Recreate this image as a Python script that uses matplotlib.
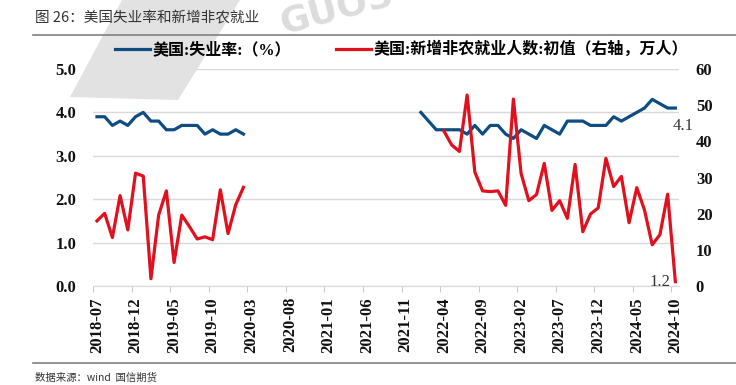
import numpy as np
import pandas as pd
import matplotlib
matplotlib.use('Agg')
import matplotlib.pyplot as plt
from matplotlib.lines import Line2D
from matplotlib.patches import Polygon

plt.rcParams['font.family'] = ['Liberation Serif', 'Noto Sans CJK SC', 'DejaVu Sans']

# monthly categories
months = pd.date_range('2018-07-01', '2024-10-01', freq='MS').strftime('%Y-%m').tolist()

# US unemployment rate (%), left axis
unemp_2018 = [3.9, 3.9, 3.7, 3.8, 3.7, 3.9, 4.0, 3.8, 3.8, 3.6,
              3.6, 3.7, 3.7, 3.7, 3.5, 3.6, 3.5, 3.5, 3.6, 3.5]          # 2018-07 .. 2020-02
unemp_2022 = [4.0, 3.8, 3.6, 3.6, 3.6, 3.6, 3.5, 3.7, 3.5, 3.7, 3.7, 3.5,
              3.4, 3.6, 3.5, 3.4, 3.7, 3.6, 3.5, 3.8, 3.8, 3.8, 3.7, 3.7,
              3.7, 3.9, 3.8, 3.9, 4.0, 4.1, 4.3, 4.2, 4.1, 4.1]            # 2022-01 .. 2024-10

# US nonfarm payrolls, first release (10k persons), right axis
nfp_2018 = [18.0, 20.1, 13.4, 25.0, 15.5, 31.2, 30.4, 2.0, 19.6, 26.3,
            6.5, 19.6, 16.4, 13.0, 13.6, 12.8, 26.6, 14.5, 22.5, 27.3]     # 2018-07 .. 2020-02
nfp_2022 = [42.8, 39.0, 37.2, 52.8, 31.5, 26.3, 26.1, 26.3, 22.3,
            51.7, 31.1, 23.6, 25.3, 33.9, 20.9, 23.6, 18.7, 33.6, 15.0, 19.9, 21.6,
            35.3, 27.5, 30.3, 17.5, 27.2, 21.0, 11.4, 14.2, 25.4, 1.2]     # 2022-04 .. 2024-10

unemp = pd.Series(np.nan, index=months)
unemp.loc['2018-07':'2020-02'] = unemp_2018
unemp.loc['2022-01':'2024-10'] = unemp_2022
nfp = pd.Series(np.nan, index=months)
nfp.loc['2018-07':'2020-02'] = nfp_2018
nfp.loc['2022-04':'2024-10'] = nfp_2022

x = np.arange(len(months))
blue = '#0f4c81'
red = '#e0101e'

fig = plt.figure(figsize=(7.36, 3.85), dpi=100)

# watermark
fig.patches.append(Polygon([(122/736, 1), (240/736, 1), (178/736, 1-100/385), (70/736, 1-97/385)],
                           closed=True, transform=fig.transFigure, facecolor='#e2e2e2',
                           edgecolor='none', zorder=0))
fig.text(283/736, 1-34/385, 'GUOS', fontsize=26, fontweight='bold', family='DejaVu Sans',
         color='#dcdcdc', rotation=15, rotation_mode='anchor', ha='left', va='baseline', zorder=0)

ax = fig.add_axes([93.1/736, 1-286/385, (679.2-93.1)/736, 217/385])
ax.patch.set_visible(False)
ax2 = ax.twinx()

l1, = ax.plot(x, unemp.values, color=blue, lw=2.3)
l2, = ax2.plot(x, nfp.values, color=red, lw=2.3)

ax.set_xlim(-0.5, len(months) - 0.5)
ax.set_ylim(0, 5)
ax2.set_ylim(0, 60)
ax.set_yticks(np.arange(0, 6, 1))
ax.set_yticklabels([f'{v:.1f}' for v in np.arange(0, 6, 1)])
ax2.set_yticks(np.arange(0, 61, 10))

ax.set_xticks(x[::5])
ax.set_xticklabels(months[::5], rotation=90)
ax.set_xticks(np.arange(-0.5, len(months), 5), minor=True)

ax.grid(axis='y', color='#d9d9d9', lw=1)
ax.set_axisbelow(True)
for s in ['top', 'left', 'right']:
    ax.spines[s].set_visible(False)
    ax2.spines[s].set_visible(False)
ax2.spines['bottom'].set_visible(False)
ax.spines['bottom'].set_color('#d9d9d9')

ax.tick_params(axis='y', length=0, pad=12, labelsize=12, labelcolor='#111111')
ax2.tick_params(axis='y', length=0, pad=12, labelsize=12, labelcolor='#111111')
ax.tick_params(axis='x', which='major', length=0, pad=8, labelsize=12, labelcolor='#111111')
ax.tick_params(axis='x', which='minor', length=4, color='#bfbfbf')
for lab in ax.get_xticklabels() + ax.get_yticklabels() + ax2.get_yticklabels():
    lab.set_fontweight('bold')

ax.annotate('4.1', (x[-1], unemp.values[-1]), xytext=(8, -18), textcoords='offset pixels',
            ha='center', va='center', fontsize=12, color='#333333')
ax2.annotate('1.2', (x[-1], nfp.values[-1]), xytext=(-15, 0), textcoords='offset pixels',
             ha='center', va='center', fontsize=12, color='#333333')

fig.legend([l1, l2], ['美国:失业率:（%）', '美国:新增非农就业人数:初值（右轴，万人）'],
           loc='center', bbox_to_anchor=(0.5455, 1-50/385), ncol=2, frameon=False,
           handlelength=2.2, handletextpad=0.15, columnspacing=2.8,
           prop={'size': 11.5, 'weight': 'bold'})

# header / footer
fig.text(35/736, 1-18/385, '图 26：美国失业率和新增非农就业', fontsize=10.5,
         family=['Noto Sans CJK SC', 'DejaVu Sans'], color='#333333', ha='left', va='center')
fig.add_artist(Line2D([33/736, 1], [1-35/385, 1-35/385], color='#808080', lw=1.2))
fig.add_artist(Line2D([33/736, 1], [1-363/385, 1-363/385], color='#808080', lw=1.2))
fig.text(35/736, 1-378/385, '数据来源：wind  国信期货', fontsize=7.5,
         family=['Noto Sans CJK SC', 'DejaVu Sans'], color='#333333', ha='left', va='center')

fig.savefig('out.png', dpi=100)
